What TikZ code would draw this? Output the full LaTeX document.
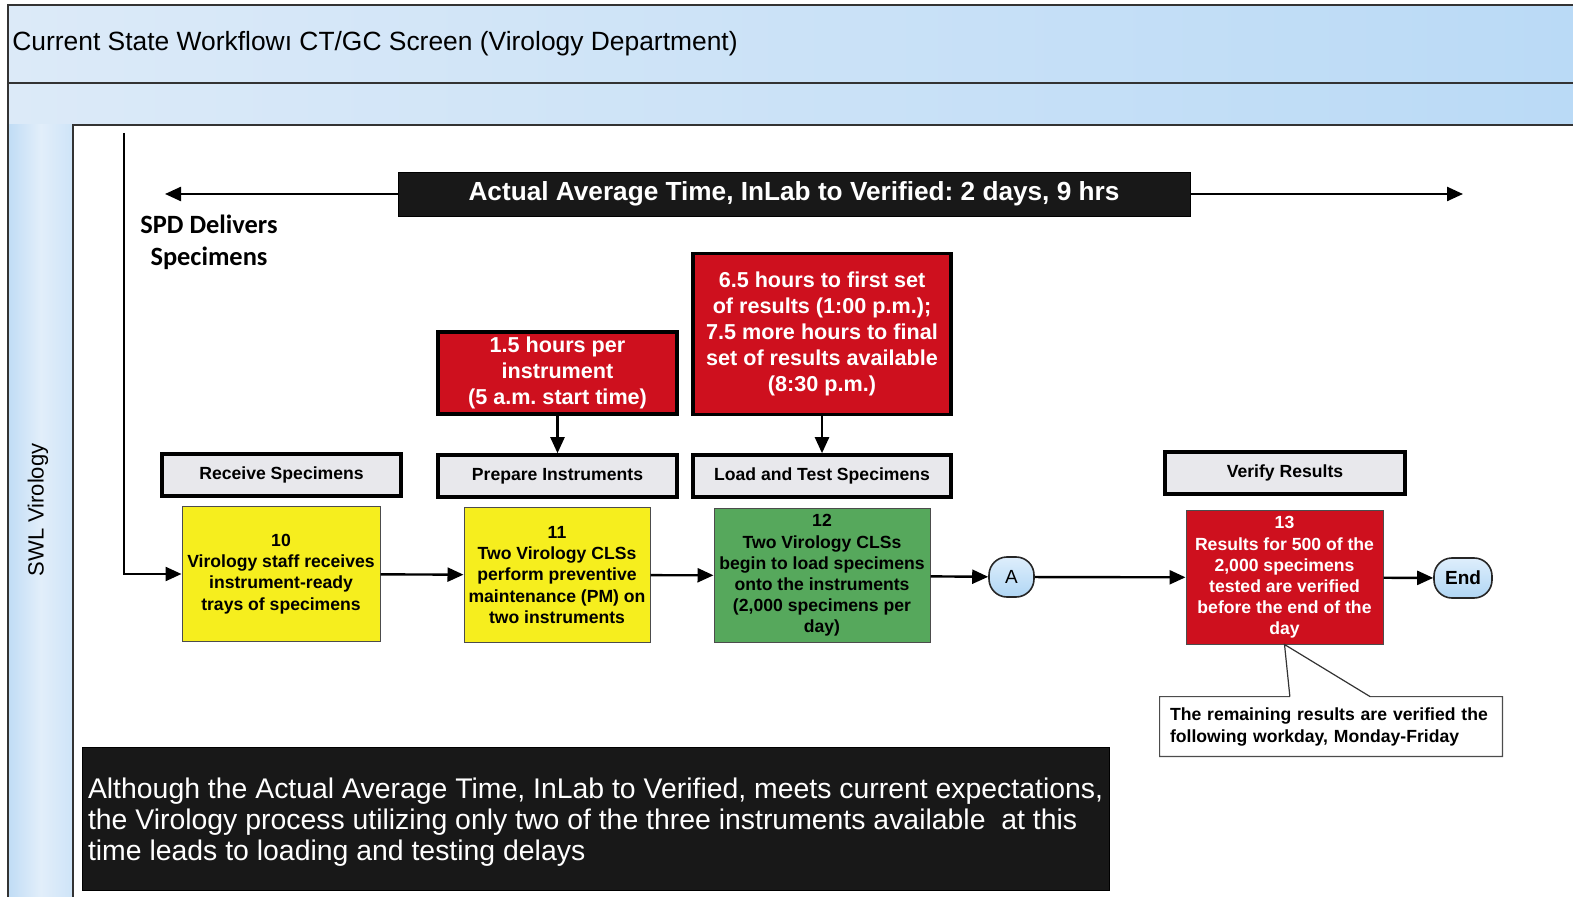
\documentclass[tikz,border=0pt]{standalone}
\usepackage{fontspec}
\setmainfont{Liberation Sans}
\newfontfamily\calib{Carlito}
\usetikzlibrary{arrows.meta,calc}
\frenchspacing

\definecolor{hdrL}{RGB}{220,234,248}
\definecolor{hdrR}{RGB}{186,218,246}
\definecolor{laneL}{RGB}{192,220,245}
\definecolor{laneM}{RGB}{226,238,250}
\definecolor{laneR}{RGB}{206,228,248}
\definecolor{alarm}{RGB}{206,16,30}
\definecolor{taskyellow}{RGB}{246,238,30}
\definecolor{taskgreen}{RGB}{86,168,92}
\definecolor{phasegray}{RGB}{232,232,236}
\definecolor{termtop}{RGB}{222,238,252}
\definecolor{termbot}{RGB}{176,214,244}
\definecolor{darkbox}{RGB}{24,24,24}

\begin{document}
\begin{tikzpicture}[x=0.5pt,y=-0.5pt,
  phase/.style={draw=black, line width=1.8pt, fill=phasegray, inner sep=0pt,
    font=\bfseries\fontsize{8.8}{10.5}\selectfont},
  note/.style={draw=black, line width=1.8pt, fill=alarm, text=white, align=center,
    inner sep=0pt, font=\bfseries\fontsize{10.8}{13}\selectfont},
  task/.style={draw=black!70, line width=0.5pt, align=center, inner sep=0pt,
    font=\bfseries\fontsize{8.8}{10.6}\selectfont},
  term/.style={draw=black!85, line width=0.8pt, rounded corners=9pt,
    top color=termtop, bottom color=termbot, inner sep=0pt},
  flow/.style={line width=1.2pt, -{Triangle[length=8pt,width=7pt]}},
  banner/.style={fill=darkbox, draw=black, inner sep=0pt, text=white}]
\useasboundingbox (0,0) rectangle (1573,897);

% page frame: header bands and lane
\shade[left color=hdrL, right color=hdrR] (8,5) rectangle (1573,83);
\shade[left color=hdrL, right color=hdrR] (8,83) rectangle (1573,125);
\shade[left color=laneL, right color=laneR, middle color=laneM] (8,125) rectangle (73,897);
\draw[line width=0.8pt, black!80] (8,897) -- (8,5) -- (1573,5);
\draw[line width=0.8pt, black!80] (8,83) -- (1573,83);
\draw[line width=0.8pt, black!80] (73,897) -- (73,125) -- (1573,125);

\node[anchor=west, inner sep=0pt, font=\fontsize{13.2}{15}\selectfont] (title) at (12,44)
  {Current State Workflowı CT/GC Screen (Virology Department)};
\node[rotate=90, font=\fontsize{11}{13}\selectfont] (lane) at (38,510) {SWL Virology};

% overall time span
\node[banner, minimum width=396pt, minimum height=22pt,
  font=\bfseries\fontsize{13.1}{15}\selectfont] (span) at (794,194)
  {Actual Average Time, InLab to Verified: 2 days, 9 hrs};
\coordinate (spanL) at (165,194);
\coordinate (spanR) at (1463,194);
\draw[flow] (span.west) -- (spanL);
\draw[flow] (span.east) -- (spanR);

\node[align=center, font=\calib\bfseries\fontsize{13.2}{16}\selectfont] (spd) at (209,242)
  {SPD Delivers\\Specimens};

% phase labels
\node[phase, minimum width=119.5pt, minimum height=21pt] (phR) at (281.5,475) {Receive Specimens};
\node[phase, minimum width=119.5pt, minimum height=21pt] (phP) at (557.5,476) {Prepare Instruments};
\node[phase, minimum width=129pt, minimum height=21pt] (phL) at (822,476) {Load and Test Specimens};
\node[phase, minimum width=120pt, minimum height=21pt] (phV) at (1285,473) {Verify Results};

% timing notes
\node[note, minimum width=119.5pt, minimum height=41pt] (n1) at (557.5,373)
  {1.5 hours per\\instrument\\(5 a.m. start time)};
\node[note, minimum width=129pt, minimum height=80.5pt] (n2) at (822,334)
  {6.5 hours to first set\\of results (1:00 p.m.);\\7.5 more hours to final\\set of results available\\(8:30 p.m.)};
\draw[flow] (n1) -- (phP);
\draw[flow] (n2) -- (phL);

% process steps
\node[task, fill=taskyellow, minimum width=99pt, minimum height=67pt] (s10) at (281,574)
  {10\\Virology staff receives\\instrument-ready\\trays of specimens};
\node[task, fill=taskyellow, minimum width=93pt, minimum height=67pt] (s11) at (557,575)
  {11\\Two Virology CLSs\\perform preventive\\maintenance (PM) on\\two instruments};
\node[task, fill=taskgreen, minimum width=108pt, minimum height=66.5pt] (s12) at (822,575.5)
  {12\\Two Virology CLSs\\begin to load specimens\\onto the instruments\\(2,000 specimens per\\day)};
\node[term, minimum width=22.5pt, minimum height=20pt, font=\fontsize{9.5}{11}\selectfont] (A) at (1011.5,577) {A};
\node[task, fill=alarm, text=white, minimum width=98.5pt, minimum height=66.5pt] (s13) at (1284.5,577.5)
  {13\\Results for 500 of the\\2,000 specimens\\tested are verified\\before the end of the\\day};
\node[term, minimum width=29pt, minimum height=20pt, font=\bfseries\fontsize{9.5}{11}\selectfont] (end) at (1463,578) {End};

\coordinate (feed) at (124,133);
\draw[flow] (feed) |- (s10.west);
\draw[flow] (s10) -- (s11);
\draw[flow] (s11) -- (s12);
\draw[flow] (s12) -- (A);
\draw[flow] (A) -- (s13);
\draw[flow] (s13) -- (end);

% callout under step 13
\node[align=left, text width=161pt, inner xsep=5pt, inner ysep=0pt,
  minimum height=29.5pt, font=\bfseries\fontsize{8.8}{11}\selectfont] (co) at (1331,726.5)
  {The remaining results are verified the\\following workday, Monday-Friday};
\coordinate (coA) at ($(co.north west)!0.38!(co.north east)$);
\coordinate (coB) at ($(co.north west)!0.614!(co.north east)$);
\draw[black!70, line width=0.6pt] (coA) -- (co.north west) -- (co.south west)
  -- (co.south east) -- (co.north east) -- (coB);
\draw[black!80, line width=0.6pt] (coA) -- (s13.south) -- (coB);

% summary
\node[banner, minimum width=513.5pt, minimum height=71.5pt] (sum) at (595.5,818.5) {};
\node[anchor=west, align=left, inner sep=0pt, text=white,
  font=\fontsize{14.2}{15.5}\selectfont] (sumtext) at ([xshift=3pt,yshift=-2pt]sum.west)
  {Although the Actual Average Time, InLab to Verified, meets current expectations,\\
   the Virology process utilizing only two of the three instruments available\ \ at this\\
   time leads to loading and testing delays};
\end{tikzpicture}
\end{document}
